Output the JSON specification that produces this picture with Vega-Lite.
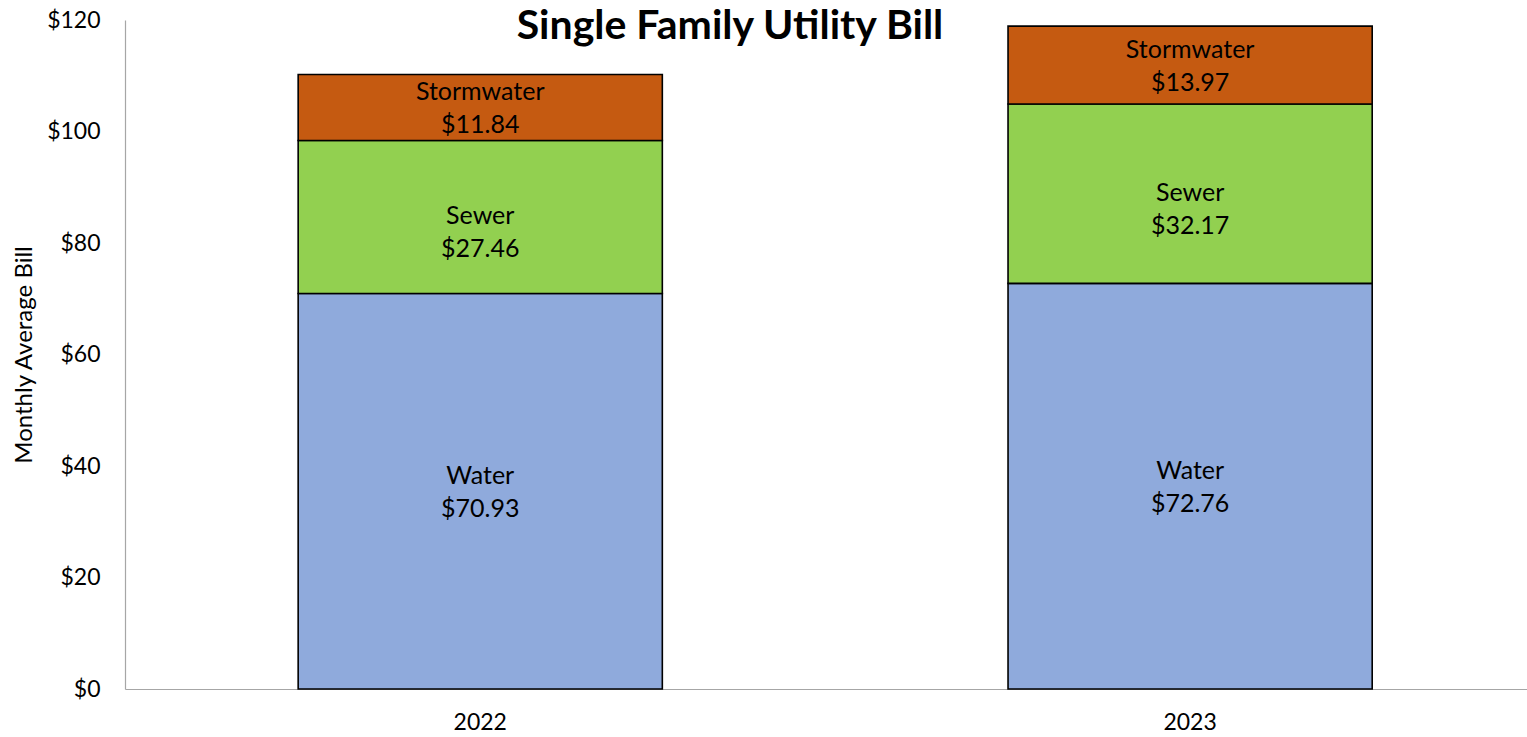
{
  "$schema": "https://vega.github.io/schema/vega-lite/v6.json",
  "width": 1402,
  "height": 669,
  "autosize": {"type": "none"},
  "padding": {"left": 125, "top": 20, "right": 0, "bottom": 48},
  "background": "white",
  "config": {"view": {"stroke": null}, "font": "Lato"},
  "title": {
    "text": "Single Family Utility Bill",
    "font": "Lato",
    "fontSize": 41,
    "fontWeight": "bold",
    "color": "#000000",
    "anchor": "middle",
    "offset": 0,
    "dx": -96,
    "dy": 39
  },
  "data": {
    "values": [
      {"year": "2022", "type": "Water", "order": 1, "value": 70.93},
      {"year": "2022", "type": "Sewer", "order": 2, "value": 27.46},
      {"year": "2022", "type": "Stormwater", "order": 3, "value": 11.84},
      {"year": "2023", "type": "Water", "order": 1, "value": 72.76},
      {"year": "2023", "type": "Sewer", "order": 2, "value": 32.17},
      {"year": "2023", "type": "Stormwater", "order": 3, "value": 13.97}
    ]
  },
  "transform": [
    {"stack": "value", "groupby": ["year"], "sort": [{"field": "order", "order": "ascending"}], "as": ["v0", "v1"]},
    {"calculate": "(datum.v0 + datum.v1) / 2", "as": "mid"},
    {"calculate": "[datum.type, '$' + format(datum.value, '.2f')]", "as": "label"}
  ],
  "encoding": {
    "x": {
      "field": "year",
      "type": "nominal",
      "scale": {"paddingInner": 0.487, "paddingOuter": 0.231, "align": 0.528},
      "axis": {
        "title": null,
        "labelAngle": 0,
        "labelFontSize": 23,
        "labelColor": "#000000",
        "labelPadding": 22,
        "ticks": false,
        "domainColor": "#A6A6A6",
        "domainWidth": 1.2
      }
    }
  },
  "layer": [
    {
      "mark": {"type": "bar", "stroke": "#000000", "strokeWidth": 1.6},
      "encoding": {
        "y": {
          "field": "v0",
          "type": "quantitative",
          "scale": {"domain": [0, 120], "nice": false},
          "axis": {
            "title": "Monthly Average Bill",
            "titleFontSize": 24,
            "titleFontWeight": "normal",
            "titleColor": "#000000",
            "titlePadding": 10,
            "values": [0, 20, 40, 60, 80, 100, 120],
            "format": "$,d",
            "labelFontSize": 23,
            "labelColor": "#000000",
            "labelPadding": 25,
            "ticks": false,
            "grid": false,
            "domainColor": "#A6A6A6",
            "domainWidth": 1.2
          }
        },
        "y2": {"field": "v1"},
        "color": {
          "field": "type",
          "type": "nominal",
          "scale": {"domain": ["Water", "Sewer", "Stormwater"], "range": ["#8FAADC", "#92D050", "#C55A11"]},
          "legend": null
        }
      }
    },
    {
      "transform": [{"filter": "datum.type !== 'Sewer'"}],
      "mark": {"type": "text", "fontSize": 25, "color": "#000000", "lineHeight": 33, "baseline": "middle", "dy": -15},
      "encoding": {
        "y": {"field": "mid", "type": "quantitative"},
        "text": {"field": "label"}
      }
    },
    {
      "transform": [{"filter": "datum.type === 'Sewer'"}],
      "mark": {"type": "text", "fontSize": 25, "color": "#000000", "lineHeight": 33, "baseline": "middle", "dy": -1},
      "encoding": {
        "y": {"field": "mid", "type": "quantitative"},
        "text": {"field": "label"}
      }
    }
  ]
}
